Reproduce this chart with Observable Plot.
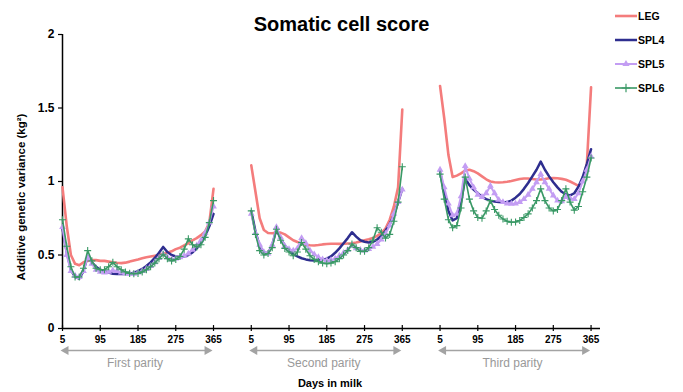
<!DOCTYPE html>
<html><head><meta charset="utf-8">
<script src="https://cdn.jsdelivr.net/npm/d3@7"></script>
<script src="https://cdn.jsdelivr.net/npm/@observablehq/plot@0.6"></script>
<style>body{margin:0;background:#fff}</style>
</head><body><div id="chart"></div>
<script>
// ---- data ----
const days = [5,15,25,35,45,55,65,75,85,95,105,115,125,135,145,155,165,175,185,195,205,215,225,235,245,255,265,275,285,295,305,315,325,335,345,355,365];
const parities = ["First parity","Second parity","Third parity"];
const seriesNames = ["LEG","SPL4","SPL5","SPL6"];
const xTickLabels = [5,95,185,275,365];
const yTicks = [0,0.5,1,1.5,2];

const leg1  = [0.96,0.70,0.50,0.44,0.43,0.45,0.46,0.465,0.465,0.46,0.46,0.455,0.45,0.447,0.445,0.448,0.455,0.463,0.47,0.478,0.485,0.49,0.495,0.50,0.51,0.515,0.525,0.54,0.55,0.565,0.58,0.60,0.615,0.635,0.66,0.72,0.95];
const spl4_1 = [0.68,0.52,0.40,0.35,0.34,0.39,0.495,0.45,0.42,0.40,0.39,0.38,0.372,0.37,0.37,0.37,0.372,0.38,0.39,0.405,0.425,0.45,0.48,0.515,0.555,0.52,0.50,0.49,0.488,0.49,0.50,0.518,0.545,0.58,0.63,0.695,0.78];
const spl5_1 = [0.69,0.50,0.39,0.36,0.35,0.39,0.485,0.44,0.40,0.385,0.38,0.385,0.395,0.39,0.38,0.375,0.372,0.372,0.38,0.39,0.405,0.425,0.45,0.48,0.505,0.485,0.47,0.475,0.485,0.495,0.51,0.535,0.565,0.60,0.65,0.72,0.83];
const spl6_1 = [0.74,0.56,0.42,0.35,0.35,0.41,0.53,0.46,0.41,0.40,0.40,0.42,0.45,0.42,0.40,0.385,0.375,0.372,0.375,0.385,0.40,0.42,0.445,0.475,0.505,0.475,0.46,0.47,0.49,0.54,0.61,0.57,0.555,0.57,0.62,0.72,0.87];

const leg2  = [1.11,0.93,0.75,0.67,0.65,0.648,0.652,0.652,0.64,0.62,0.60,0.588,0.578,0.57,0.566,0.565,0.568,0.572,0.575,0.577,0.577,0.576,0.576,0.578,0.58,0.585,0.592,0.60,0.607,0.615,0.63,0.65,0.68,0.74,0.83,0.96,1.49];
const spl4_2 = [0.80,0.66,0.56,0.52,0.51,0.57,0.675,0.61,0.565,0.53,0.505,0.49,0.478,0.47,0.465,0.462,0.463,0.468,0.475,0.49,0.515,0.545,0.58,0.615,0.655,0.625,0.60,0.59,0.585,0.59,0.605,0.63,0.665,0.71,0.77,0.86,0.95];
const spl5_2 = [0.78,0.65,0.57,0.52,0.51,0.57,0.69,0.62,0.56,0.54,0.53,0.545,0.615,0.58,0.53,0.505,0.485,0.47,0.463,0.465,0.475,0.495,0.515,0.535,0.565,0.545,0.535,0.53,0.54,0.555,0.575,0.605,0.645,0.70,0.78,0.86,0.945];
const spl6_2 = [0.80,0.64,0.53,0.50,0.51,0.55,0.675,0.60,0.545,0.52,0.495,0.52,0.585,0.54,0.495,0.47,0.455,0.445,0.44,0.445,0.455,0.475,0.50,0.53,0.575,0.55,0.525,0.525,0.55,0.60,0.685,0.655,0.615,0.64,0.73,0.86,1.10];

const leg3  = [1.65,1.43,1.18,1.03,1.04,1.055,1.075,1.08,1.07,1.055,1.035,1.015,1.0,0.995,0.993,0.995,0.998,1.003,1.01,1.017,1.02,1.02,1.017,1.014,1.014,1.017,1.022,1.024,1.022,1.018,1.012,1.0,0.985,0.97,1.0,1.12,1.64];
const spl4_3 = [1.07,0.92,0.80,0.735,0.75,0.86,1.02,0.975,0.945,0.92,0.895,0.88,0.87,0.864,0.86,0.858,0.86,0.87,0.89,0.915,0.95,0.99,1.035,1.08,1.135,1.08,1.035,0.995,0.96,0.93,0.912,0.905,0.92,0.965,1.03,1.12,1.22];
const spl5_3 = [1.08,0.96,0.85,0.77,0.78,0.90,1.105,1.02,0.96,0.91,0.895,0.92,0.97,0.92,0.875,0.86,0.85,0.848,0.85,0.86,0.88,0.91,0.95,0.995,1.05,0.995,0.95,0.905,0.87,0.865,0.895,0.885,0.88,0.92,1.0,1.08,1.17];
const spl6_3 = [1.05,0.88,0.74,0.685,0.70,0.82,1.03,0.88,0.80,0.755,0.75,0.80,0.87,0.81,0.77,0.745,0.73,0.723,0.725,0.735,0.755,0.78,0.82,0.87,0.95,0.87,0.82,0.80,0.81,0.87,0.95,0.86,0.805,0.83,0.93,1.03,1.16];

const seriesData = {
  LEG:  [leg1, leg2, leg3],
  SPL4: [spl4_1, spl4_2, spl4_3],
  SPL5: [spl5_1, spl5_2, spl5_3],
  SPL6: [spl6_1, spl6_2, spl6_3]
};
const arrowDays = [13, 350];

// ---- styling ----
const FONT = "'Liberation Sans', Arial, sans-serif";
const colors = {LEG: "#f47c7c", SPL4: "#2e2e8f", SPL5: "#c39df3", SPL6: "#3a9966"};
const widths = {LEG: 2.6, SPL4: 2.5, SPL5: 2, SPL6: 1.6};
const gray = "#a3a3a3";

// position on the continuous category axis: each parity spans 4 tick steps (90 days), 1 step gap
const pos = (p, day) => p * 5 + (day - 5) / 90;

const rows = [];
for (const s of seriesNames) {
  seriesData[s].forEach((vals, p) => {
    vals.forEach((v, i) => rows.push({series: s, parity: p, day: days[i], pos: pos(p, days[i]), value: v}));
  });
}
const xTickPos = [];
parities.forEach((_, p) => xTickLabels.forEach(l => xTickPos.push(pos(p, l))));
const parityRows = parities.map((name, p) => ({name, start: pos(p, arrowDays[0]), end: pos(p, arrowDays[1]), mid: pos(p, 185)}));
const arrowHeads = parityRows.flatMap(d => [{x: d.start, rot: -90}, {x: d.end, rot: 90}]);

const seriesMarks = [];
for (const s of seriesNames) {
  const data = rows.filter(d => d.series === s);
  seriesMarks.push(Plot.line(data, {x: "pos", y: "value", z: "parity", stroke: colors[s], strokeWidth: widths[s], strokeLinejoin: "round"}));
  if (s === "SPL5") seriesMarks.push(Plot.dot(data, {x: "pos", y: "value", symbol: "triangle", r: 2.5, fill: colors[s], stroke: "none"}));
  if (s === "SPL6") seriesMarks.push(Plot.dot(data, {x: "pos", y: "value", symbol: "plus", r: 2.4, stroke: colors[s], strokeWidth: 1.1, fill: "none"}));
}

const chart = Plot.plot({
  width: 683, height: 392,
  marginLeft: 62, marginRight: 83, marginTop: 34, marginBottom: 64,
  style: {fontFamily: FONT, background: "#fff", overflow: "visible", color: "#000"},
  x: {domain: [0, 14.25]},
  y: {domain: [0, 2]},
  marks: [
    Plot.axisY({ticks: yTicks, tickSize: 4, tickPadding: 4, tickFormat: d => String(d), fontSize: 12, fontWeight: "bold", label: null, strokeWidth: 1.2}),
    Plot.axisX({ticks: xTickPos, tickSize: 3, tickPadding: 4, tickFormat: d => xTickLabels[Math.round(d) % 5], fontSize: 10, fontWeight: "bold", label: null, strokeWidth: 1.2}),
    Plot.ruleX(xTickPos, {x: d => d, y1: d => 0, y2: d => 0.02, stroke: "#000", strokeWidth: 1.2}),
    Plot.ruleY([0], {stroke: "#000", strokeWidth: 1.5}),
    Plot.ruleX([0], {stroke: "#000", strokeWidth: 1.5}),
    Plot.link(parityRows, {x1: "start", x2: "end", y1: d => 0, y2: d => 0, dy: 22, stroke: gray, strokeWidth: 1.6}),
    Plot.dot(arrowHeads, {x: "x", y: d => 0, dy: 22, symbol: "triangle", r: 3.4, rotate: "rot", fill: gray, stroke: "none"}),
    Plot.text(parityRows, {x: "mid", y: d => 0, text: "name", dy: 35, dx: -3, fill: "#999", fontSize: 12}),
    ...seriesMarks
  ]
});
document.getElementById("chart").appendChild(chart);

// ---- titles, labels and legend ----
const svg = d3.select(chart);
svg.append("text").attr("x", 341.5).attr("y", 30.5).attr("text-anchor", "middle")
  .attr("font-size", 20).attr("font-weight", "bold").attr("fill", "#000").text("Somatic cell score");
svg.append("text").attr("transform", "translate(25,197) rotate(-90)").attr("text-anchor", "middle")
  .attr("font-size", 11.5).attr("font-weight", "bold").attr("fill", "#000").text("Additive genetic variance (kg²)");
svg.append("text").attr("x", 330).attr("y", 387).attr("text-anchor", "middle")
  .attr("font-size", 11).attr("font-weight", "bold").attr("fill", "#000").text("Days in milk");

const legendY = [16, 40, 64, 88];
const lg = svg.append("g");
seriesNames.forEach((s, i) => {
  const y = legendY[i];
  lg.append("line").attr("x1", 615).attr("x2", 637).attr("y1", y).attr("y2", y)
    .attr("stroke", colors[s]).attr("stroke-width", widths[s]);
  if (s === "SPL5") lg.append("path").attr("d", d3.symbol(d3.symbolTriangle, 22)()).attr("transform", `translate(626,${y})`).attr("fill", colors[s]);
  if (s === "SPL6") lg.append("path").attr("d", d3.symbol(d3.symbolPlus, 26)()).attr("transform", `translate(626,${y})`).attr("stroke", colors[s]).attr("stroke-width", 1.2).attr("fill", "none");
  lg.append("text").attr("x", 638).attr("y", y).attr("dy", "0.35em").attr("text-anchor", "start").attr("font-size", 10.5)
    .attr("font-weight", "bold").attr("fill", "#000").text(s);
});
</script>
</body></html>
